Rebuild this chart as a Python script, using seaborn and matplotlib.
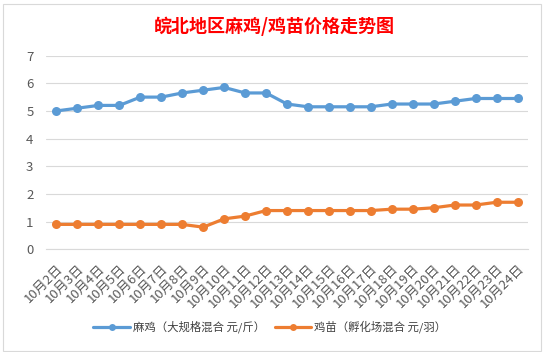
import matplotlib
matplotlib.use("Agg")
import matplotlib.pyplot as plt
from matplotlib.patches import Rectangle
from matplotlib.lines import Line2D
import seaborn as sns
import pandas as pd
import numpy as np

dates = [f"10月{d}日" for d in range(2, 25)]
chicken = [5.0, 5.1, 5.2, 5.2, 5.5, 5.5, 5.65, 5.75, 5.85, 5.65, 5.65, 5.25,
           5.15, 5.15, 5.15, 5.15, 5.25, 5.25, 5.25, 5.35, 5.45, 5.45, 5.45]
chick = [0.9, 0.9, 0.9, 0.9, 0.9, 0.9, 0.9, 0.8, 1.1, 1.2, 1.4, 1.4,
         1.4, 1.4, 1.4, 1.4, 1.45, 1.45, 1.5, 1.6, 1.6, 1.7, 1.7]
series_names = ["麻鸡（大规格混合 元/斤）", "鸡苗（孵化场混合 元/羽）"]
colors = ["#5B9BD5", "#ED7D31"]
title = "皖北地区麻鸡/鸡苗价格走势图"
yticks = [0, 1, 2, 3, 4, 5, 6, 7]

sns.set_theme(style="white")
plt.rcParams['font.family'] = ['Noto Sans CJK SC', 'DejaVu Sans']

W, H = 546, 352
fig = plt.figure(figsize=(W / 100, H / 100), dpi=100)
ax = fig.add_axes([46 / W, 1 - 249.3 / H, (528 - 46) / W, (249.3 - 55.6) / H])

df = pd.DataFrame({"date": dates, series_names[0]: chicken, series_names[1]: chick})
long = df.melt(id_vars="date", var_name="series", value_name="price")
long["pos"] = long["date"].map({d: i for i, d in enumerate(dates)})

sns.lineplot(data=long, x="pos", y="price", hue="series", hue_order=series_names,
             palette=colors, marker="o", markersize=6.5, markeredgewidth=0,
             linewidth=2.3, sort=False, legend=False, ax=ax)

ax.set_xlim(-0.5, len(dates) - 0.5)
ax.set_ylim(0, 7)
ax.set_yticks(yticks)
ax.set_yticklabels([str(v) for v in yticks])
ax.set_xticks(range(len(dates)))
ax.set_xticklabels(dates, rotation=45, ha="right", rotation_mode="anchor")
ax.set_xticks(np.arange(-0.5, len(dates), 1.0), minor=True)
ax.tick_params(axis="x", which="major", length=0, pad=9, labelsize=9.5, colors="#595959")
ax.tick_params(axis="x", which="minor", length=4, width=0.8, color="#D9D9D9", direction="out")
ax.tick_params(axis="y", length=0, pad=9, labelsize=9.5, colors="#595959")
ax.set_xlabel("")
ax.set_ylabel("")
ax.grid(axis="y", color="#D9D9D9", linewidth=0.8)
ax.grid(axis="x", visible=False)
for s in ["left", "right", "top"]:
    ax.spines[s].set_visible(False)
ax.spines["bottom"].set_color("#D9D9D9")
ax.spines["bottom"].set_linewidth(0.8)

fig.text(274 / W, 1 - 26 / H, title, color="#FF0000", fontsize=13,
         fontweight="bold", ha="center", va="center")

handles = [Line2D([0], [0], color=c, linewidth=2.3, marker="o", markersize=5,
                  markeredgewidth=0) for c in colors]
fig.legend(handles, series_names, loc="center", bbox_to_anchor=(270 / W, 1 - 327 / H),
           ncol=2, frameon=False, fontsize=8.2, handlelength=3.2, handletextpad=0.3,
           columnspacing=0.8, labelcolor="#404040")

fig.add_artist(Rectangle((3 / W, 1 - 351 / H), (541 - 3) / W, (351 - 4) / H,
                         transform=fig.transFigure, fill=False,
                         edgecolor="#D9D9D9", linewidth=0.8))

fig.savefig("out.png", dpi=100)
